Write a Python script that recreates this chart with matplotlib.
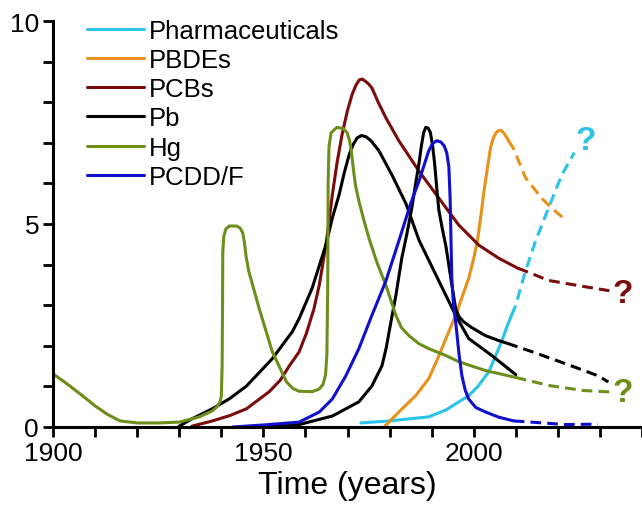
import matplotlib
matplotlib.use("Agg")
import matplotlib.pyplot as plt
from matplotlib.ticker import MultipleLocator

plt.rcParams['font.family'] = ['Liberation Sans', 'DejaVu Sans']

# Hg (olive)
hg_yr = [1900, 1903.5, 1907, 1910, 1912.8, 1915.9, 1920, 1925, 1930, 1934.8, 1937.9, 1939, 1939.7,
         1940.0, 1940.2, 1940.3, 1940.35, 1940.6, 1941.1, 1941.9, 1943.6, 1944.5, 1945.1, 1945.5,
         1945.9, 1946.5, 1949, 1952.1, 1955.5, 1957, 1958.5, 1961.6, 1963.2, 1964.2, 1964.8, 1965.1,
         1965.3, 1965.4, 1965.6, 1966.1, 1967.5, 1969.0, 1969.9, 1970.5, 1970.9, 1971.4, 1971.9,
         1972.7, 1974, 1975.1, 1977, 1979.1, 1981.5, 1982.8, 1984.6, 1987, 1989.3, 1993.4, 1996.4,
         2002.8, 2010]
hg_val = [1.31, 1.05, 0.77, 0.52, 0.32, 0.15, 0.1, 0.1, 0.12, 0.25, 0.4, 0.5, 0.62,
          0.75, 1.5, 3.0, 4.3, 4.7, 4.88, 4.95, 4.95, 4.9, 4.78, 4.55,
          4.2, 3.85, 2.92, 1.86, 1.11, 0.95, 0.88, 0.87, 0.93, 1.05, 1.3, 1.8,
          3.5, 6.0, 6.9, 7.25, 7.38, 7.35, 7.25, 7.05, 6.8, 6.35, 5.95,
          5.57, 5.05, 4.65, 4.05, 3.5, 2.75, 2.45, 2.25, 2.05, 1.93, 1.76, 1.61,
          1.39, 1.22]
hg_yr_d = [2010, 2018, 2026, 2033]
hg_val_d = [1.22, 1.02, 0.9, 0.86]

# PCBs (dark red)
pcb_yr = [1933, 1937.9, 1942, 1946, 1951.4, 1954, 1956.2, 1958.5, 1960.2, 1962, 1963.3, 1964.9,
          1966.4, 1967.5, 1968.7, 1970, 1971.1, 1972, 1972.8, 1973.5, 1974.2, 1975, 1975.8,
          1977.3, 1979.1, 1982.2, 1987, 1991.7, 1996.4, 2001.2, 2005.9, 2010.5]
pcb_val = [0.02, 0.15, 0.28, 0.45, 0.87, 1.15, 1.51, 1.85, 2.3, 2.9, 3.5, 4.5,
           5.72, 6.5, 7.2, 7.8, 8.19, 8.42, 8.55, 8.57, 8.52, 8.45, 8.35,
           8.0, 7.62, 7.05, 6.3, 5.64, 4.98, 4.48, 4.16, 3.91]
pcb_yr_d = [2010.5, 2012.3, 2017.8, 2025.6, 2033.2]
pcb_val_d = [3.91, 3.84, 3.61, 3.47, 3.34]

# Pb, first (broad) peak
pb1_yr = [1930, 1933, 1937.9, 1942, 1946, 1952.1, 1956.9, 1958.5, 1961.6, 1964.9, 1966.4, 1968,
          1969.2, 1970.4, 1971.3, 1972.3, 1973.3, 1974.4, 1975.6, 1977.5, 1980.6, 1983.9, 1987,
          1991.7, 1995.7, 1998.8, 2004.3, 2010]
pb1_val = [0.02, 0.2, 0.45, 0.7, 1.01, 1.68, 2.35, 2.67, 3.42, 4.5, 5.15, 5.72,
           6.25, 6.71, 6.95, 7.12, 7.18, 7.15, 7.05, 6.8, 6.2, 5.5, 4.6,
           3.6, 2.75, 2.18, 1.76, 1.29]

# Pb, second (narrow) peak
pb2_yr = [1945, 1952, 1958.5, 1966.4, 1972.7, 1975.8, 1978.2, 1979.2, 1979.9, 1980.7, 1981.5,
          1982.2, 1982.9, 1984.1, 1985.3, 1986.2, 1987, 1987.6, 1988.1, 1988.6, 1989.2, 1989.7,
          1990.2, 1990.7, 1991.2, 1991.7, 1992.5, 1993.4, 1994.8, 1995.7, 1996.5, 1997.5, 1999.5,
          2002.8, 2005.9, 2008]
pb2_val = [0.0, 0.02, 0.06, 0.27, 0.62, 1.01, 1.51, 1.95, 2.35, 2.8, 3.24,
           3.7, 4.16, 4.75, 5.4, 6.0, 6.5, 6.95, 7.25, 7.38, 7.36, 7.25,
           6.95, 6.5, 5.9, 5.35, 4.9, 4.45, 3.5, 2.92, 2.72, 2.6, 2.45,
           2.25, 2.13, 2.06]
pb2_yr_d = [2008, 2013.7, 2021.8, 2029.6, 2032]
pb2_val_d = [2.06, 1.86, 1.56, 1.26, 1.11]

# PCDD/F (blue)
pcdd_yr = [1942.7, 1950, 1958.5, 1963.3, 1966.4, 1969.6, 1972.7, 1975.8, 1979.1, 1982.2, 1985,
           1987, 1989.3, 1990.2, 1991.2, 1992.2, 1993, 1993.6, 1994.1, 1994.4, 1994.6, 1994.8,
           1995.2, 1995.7, 1996.5, 1997.2, 1998, 1998.8, 2000.5, 2002.8, 2006, 2009.5]
pcdd_val = [0.0, 0.05, 0.12, 0.37, 0.69, 1.26, 1.93, 2.75, 3.59, 4.58, 5.5,
            6.06, 6.8, 6.98, 7.05, 7.02, 6.92, 6.75, 6.4, 5.6, 4.6, 3.66,
            3.0, 2.6, 1.8, 1.26, 0.9, 0.69, 0.48, 0.37, 0.24, 0.15]
pcdd_yr_d = [2009.5, 2013.7, 2021.8, 2029.5]
pcdd_val_d = [0.15, 0.12, 0.06, 0.07]

# PBDEs (orange)
pbde_yr = [1978.7, 1982.2, 1986.2, 1989.3, 1991.5, 1993.4, 1995.7, 1998.8, 2000, 2000.9, 2001.7,
           2002.3, 2002.8, 2003.5, 2004, 2004.6, 2005.3, 2005.9, 2006.6, 2007.3, 2008.3]
pbde_val = [0.0, 0.37, 0.77, 1.19, 1.7, 2.18, 2.75, 3.66, 4.15, 4.6, 5.2,
            5.7, 6.06, 6.55, 6.88, 7.1, 7.25, 7.3, 7.3, 7.22, 7.05]
pbde_yr_d = [2008.3, 2009.5, 2012.3, 2016.1, 2018.5, 2021.8]
pbde_val_d = [7.05, 6.85, 6.14, 5.64, 5.4, 5.1]

# Pharmaceuticals (cyan)
pharm_yr = [1973.2, 1980, 1989.3, 1993.4, 1998.8, 2001, 2003.6, 2005, 2006.6, 2008, 2009]
pharm_val = [0.1, 0.15, 0.25, 0.42, 0.77, 1.0, 1.36, 1.7, 2.1, 2.5, 2.75]
pharm_yr_d = [2009, 2010, 2012.3, 2014.7, 2017.8, 2020.9, 2023.9]
pharm_val_d = [2.75, 3.0, 3.84, 4.58, 5.4, 6.2, 6.76]

# question marks at the end of the projections
q_yr = [2026.5, 2035.5, 2035.5]
q_val = [7.05, 3.3, 0.84]

c_pharm = "#2bc3eb"
c_pbde = "#e8911a"
c_pcb = "#7a0c0c"
c_pb = "#000000"
c_hg = "#6e8e1c"
c_pcdd = "#1010cc"

fig = plt.figure(figsize=(6.42, 5.06), dpi=100)
ax = fig.add_axes([53 / 642, 78 / 506, 589 / 642, 406 / 506])

lw = 2.2
dash = (0, (3.5, 2))
kw = dict(lw=lw, solid_joinstyle="round", solid_capstyle="round")

ax.plot(pharm_yr, pharm_val, color=c_pharm, label="Pharmaceuticals", **kw)
ax.plot(pharm_yr_d, pharm_val_d, color=c_pharm, lw=lw, ls=dash)
ax.plot(pbde_yr, pbde_val, color=c_pbde, label="PBDEs", **kw)
ax.plot(pbde_yr_d, pbde_val_d, color=c_pbde, lw=lw, ls=dash)
ax.plot(pcb_yr, pcb_val, color=c_pcb, label="PCBs", **kw)
ax.plot(pcb_yr_d, pcb_val_d, color=c_pcb, lw=lw, ls=dash)
ax.plot(pb1_yr, pb1_val, color=c_pb, label="Pb", **kw)
ax.plot(pb2_yr, pb2_val, color=c_pb, **kw)
ax.plot(pb2_yr_d, pb2_val_d, color=c_pb, lw=lw, ls=dash)
ax.plot(hg_yr, hg_val, color=c_hg, label="Hg", **kw)
ax.plot(hg_yr_d, hg_val_d, color=c_hg, lw=lw, ls=dash)
ax.plot(pcdd_yr, pcdd_val, color=c_pcdd, label="PCDD/F", **kw)
ax.plot(pcdd_yr_d, pcdd_val_d, color=c_pcdd, lw=lw, ls=dash)

for x, y, c in zip(q_yr, q_val, [c_pharm, c_pcb, c_hg]):
    ax.text(x, y, "?", color=c, fontsize=24, fontweight="bold", ha="center", va="center")

ax.set_xlim(1900, 2040)
ax.set_ylim(0, 10)
ax.set_xticks([1900, 1950, 2000])
ax.set_yticks([0, 5, 10])
ax.xaxis.set_minor_locator(MultipleLocator(10))
ax.yaxis.set_minor_locator(MultipleLocator(1))
ax.tick_params(which="both", direction="out", length=7, width=2, labelsize=19, pad=3)
for s in ["top", "right"]:
    ax.spines[s].set_visible(False)
for s in ["left", "bottom"]:
    ax.spines[s].set_linewidth(2.2)
ax.set_xlabel("Time (years)", fontsize=23, labelpad=4)

ax.legend(loc="upper left", bbox_to_anchor=(87 / 642, 1 - 20 / 506), bbox_transform=fig.transFigure,
          frameon=False, fontsize=18.5, handlelength=2.2, handletextpad=0.2, labelspacing=0.2,
          borderpad=0, borderaxespad=0)

fig.savefig("out.png", dpi=100)
